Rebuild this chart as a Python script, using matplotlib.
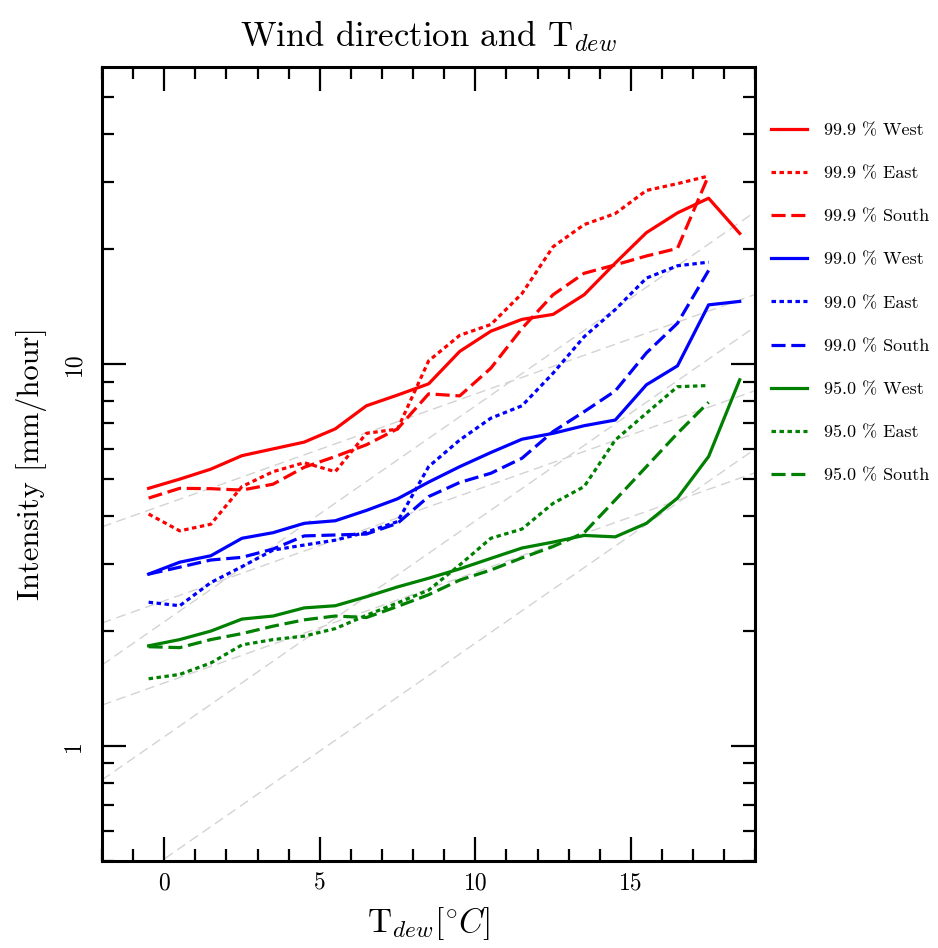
import numpy as np
import matplotlib
matplotlib.use("Agg")
import matplotlib.pyplot as plt
from matplotlib.ticker import FixedLocator, NullFormatter, FixedFormatter

plt.rcParams['font.family'] = ['cmr10', 'DejaVu Serif']
plt.rcParams['mathtext.fontset'] = 'cm'
plt.rcParams['axes.unicode_minus'] = False
plt.rcParams['axes.formatter.use_mathtext'] = True

# ---- data -------------------------------------------------------------
t_dew = [-0.5, 0.5, 1.5, 2.5, 3.5, 4.5, 5.5, 6.5, 7.5, 8.5, 9.5,
         10.5, 11.5, 12.5, 13.5, 14.5, 15.5, 16.5, 17.5, 18.5]

p999_west = [4.73, 5.0, 5.31, 5.76, 6.0, 6.25, 6.77, 7.78, 8.3, 8.88, 10.8,
             12.2, 13.1, 13.5, 15.2, 18.4, 22.1, 24.9, 27.2, 22.0]
p999_east = [4.05, 3.66, 3.81, 4.78, 5.23, 5.52, 5.23, 6.59, 6.76, 10.2, 11.9,
             12.7, 15.3, 20.3, 23.2, 24.8, 28.5, 29.7, 31.1]
p999_south = [4.46, 4.73, 4.72, 4.68, 4.85, 5.37, 5.73, 6.15, 6.77, 8.36, 8.26,
              9.76, 12.4, 15.2, 17.3, 18.2, 19.2, 20.1, 31.2]

p990_west = [2.82, 3.03, 3.15, 3.50, 3.62, 3.83, 3.89, 4.14, 4.44, 4.91, 5.39,
             5.87, 6.36, 6.59, 6.90, 7.14, 8.83, 9.9, 14.3, 14.6]
p990_east = [2.38, 2.33, 2.68, 2.95, 3.26, 3.36, 3.46, 3.63, 3.87, 5.39, 6.33,
             7.22, 7.78, 9.47, 11.8, 13.9, 16.8, 18.1, 18.5]
p990_south = [2.82, 2.94, 3.07, 3.12, 3.28, 3.55, 3.57, 3.59, 3.83, 4.5, 4.9,
              5.18, 5.67, 6.66, 7.51, 8.51, 10.7, 12.8, 17.6]

p950_west = [1.83, 1.90, 2.0, 2.15, 2.19, 2.30, 2.33, 2.46, 2.61, 2.75, 2.91,
             3.10, 3.30, 3.42, 3.56, 3.53, 3.83, 4.46, 5.73, 9.1]
p950_east = [1.50, 1.54, 1.65, 1.84, 1.90, 1.94, 2.03, 2.20, 2.37, 2.56, 2.98,
             3.50, 3.70, 4.32, 4.78, 6.33, 7.44, 8.73, 8.79]
p950_south = [1.82, 1.81, 1.90, 1.97, 2.06, 2.14, 2.19, 2.17, 2.32, 2.49, 2.72,
              2.89, 3.11, 3.33, 3.62, 4.41, 5.39, 6.59, 7.95]

labels = ['99.9 % West', '99.9 % East', '99.9 % South',
          '99.0 % West', '99.0 % East', '99.0 % South',
          '95.0 % West', '95.0 % East', '95.0 % South']

# Clausius-Clapeyron style reference lines: value at T = -2 and rate per K
ref_t_range = [-2.0, 19.0]
cc_start = [3.75, 2.10, 1.28]
cc_rate = 0.069
cc2_start = [1.63, 0.815, 0.39]
cc2_rate = 0.139

x_ticks = [0, 5, 10, 15]
y_ticks = [1, 10]

# ---- figure -----------------------------------------------------------
fig = plt.figure(figsize=(9.38, 9.48), dpi=100)
ax = fig.add_axes([0.1087, 0.0918, 0.6965, 0.8375])
ax.set_yscale('log')

tr = np.array(ref_t_range)
for s in cc_start:
    ax.plot(tr, s * (1 + cc_rate) ** (tr - tr[0]), color='#d3d3d3',
            lw=1.0, dashes=(7, 4), zorder=1)
for s in cc2_start:
    ax.plot(tr, s * (1 + cc2_rate) ** (tr - tr[0]), color='#d3d3d3',
            lw=1.0, dashes=(7, 4), zorder=1)

series = [p999_west, p999_east, p999_south,
          p990_west, p990_east, p990_south,
          p950_west, p950_east, p950_south]
colors = ['red'] * 3 + ['blue'] * 3 + ['green'] * 3
styles = [None, (1.4, 1.1), (4.4, 1.8)] * 3

lw = 2.3
for vals, c, st, lab in zip(series, colors, styles, labels):
    kw = {}
    if st is not None:
        kw['dashes'] = st
    ax.plot(t_dew[:len(vals)], vals, color=c, lw=lw, label=lab, zorder=3, **kw)

ax.set_xlim(-2, 19)
ax.set_ylim(0.5, 60)

ax.xaxis.set_major_locator(FixedLocator(x_ticks))
ax.xaxis.set_major_formatter(FixedFormatter([str(v) for v in x_ticks]))
ax.xaxis.set_minor_locator(FixedLocator(list(range(-2, 20))))
ax.yaxis.set_major_locator(FixedLocator(y_ticks))
ax.yaxis.set_major_formatter(FixedFormatter([str(v) for v in y_ticks]))
minor_y = [0.5, 0.6, 0.7, 0.8, 0.9, 2, 3, 4, 5, 6, 7, 8, 9, 20, 30, 40, 50]
ax.yaxis.set_minor_locator(FixedLocator(minor_y))
ax.yaxis.set_minor_formatter(NullFormatter())

ax.tick_params(which='both', direction='in', top=True, right=True, width=1.6)
ax.tick_params(which='major', length=17)
ax.tick_params(which='minor', length=8.5)
ax.tick_params(axis='x', which='major', labelsize=17, pad=8)
ax.tick_params(axis='y', which='major', labelsize=17, pad=12)
for lbl in ax.get_yticklabels():
    lbl.set_rotation(90)
    lbl.set_va('center')

for sp in ax.spines.values():
    sp.set_linewidth(2.2)

ax.set_xlabel(r'T$_{dew}[^{\circ}C]$', fontsize=24, labelpad=8)
ax.set_ylabel('Intensity [mm/hour]', fontsize=22, labelpad=12)
ax.set_title(r'Wind direction and T$_{dew}$', fontsize=25, pad=15)

leg = fig.legend(loc='center left', bbox_to_anchor=(771 / 938, 1 - 303 / 948),
                 frameon=False, fontsize=13, handlelength=2.0,
                 labelspacing=1.52, handletextpad=0.94, borderpad=0,
                 borderaxespad=0)

fig.savefig('out.png', dpi=100)
